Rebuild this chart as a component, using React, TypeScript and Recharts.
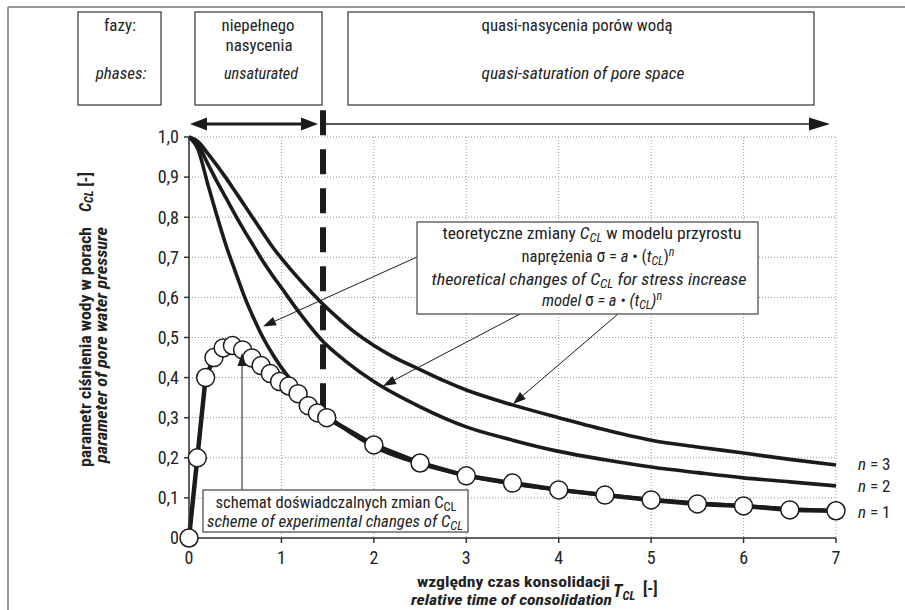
import React from "react";
import {
  ComposedChart,
  Line,
  XAxis,
  YAxis,
  CartesianGrid,
  ReferenceLine,
} from "recharts";

// ---------- data ----------
const expT = [0, 0.09, 0.18, 0.27, 0.37, 0.47, 0.58, 0.68, 0.78, 0.88, 0.98, 1.08, 1.18, 1.29, 1.39, 1.49, 2.0, 2.5, 3.0, 3.5, 4.0, 4.5, 5.0, 5.5, 6.0, 6.5, 7.0];
const expC = [0, 0.2, 0.4, 0.45, 0.474, 0.48, 0.469, 0.449, 0.43, 0.41, 0.39, 0.379, 0.36, 0.33, 0.312, 0.3, 0.232, 0.187, 0.155, 0.137, 0.12, 0.107, 0.095, 0.085, 0.08, 0.07, 0.068];

const n1T = [0, 0.1, 0.2, 0.3, 0.4, 0.5, 0.6, 0.7, 0.8, 0.9, 1.0, 1.1, 1.2, 1.3, 1.4, 1.5, 2.0, 2.5, 3.0, 3.5, 4.0, 4.5, 5.0, 5.5, 6.0, 6.5, 7.0];
const n1C = [1.0, 0.968, 0.885, 0.805, 0.73, 0.665, 0.602, 0.548, 0.5, 0.46, 0.425, 0.395, 0.368, 0.345, 0.325, 0.305, 0.228, 0.185, 0.156, 0.135, 0.12, 0.107, 0.096, 0.087, 0.08, 0.073, 0.067];

const n2T = [0, 0.1, 0.2, 0.3, 0.4, 0.5, 0.6, 0.7, 0.8, 0.9, 1.0, 1.2, 1.45, 1.7, 2.0, 2.5, 3.0, 3.5, 4.0, 4.5, 5.0, 5.5, 6.0, 6.5, 7.0];
const n2C = [1.0, 0.98, 0.935, 0.89, 0.848, 0.806, 0.766, 0.728, 0.69, 0.656, 0.624, 0.56, 0.49, 0.44, 0.39, 0.327, 0.277, 0.244, 0.216, 0.195, 0.177, 0.163, 0.15, 0.14, 0.13];

const n3T = [0, 0.1, 0.2, 0.3, 0.4, 0.5, 0.6, 0.75, 0.9, 1.1, 1.25, 1.42, 1.6, 1.8, 2.0, 2.2, 2.5, 2.75, 3.0, 3.5, 4.0, 4.5, 5.0, 5.5, 6.0, 6.5, 7.0];
const n3C = [1.0, 0.988, 0.96, 0.93, 0.898, 0.864, 0.83, 0.778, 0.727, 0.67, 0.631, 0.59, 0.551, 0.512, 0.48, 0.453, 0.42, 0.393, 0.369, 0.332, 0.3, 0.27, 0.244, 0.227, 0.212, 0.196, 0.182];

const xTicks = [0, 1, 2, 3, 4, 5, 6, 7];
const yTicks = [0, 0.1, 0.2, 0.3, 0.4, 0.5, 0.6, 0.7, 0.8, 0.9, 1.0];
const phaseBoundaryT = 1.45;
const phaseLineBottomC = 0.31;
const phaseLineTopC = 1.067;

const zip = (ts: number[], cs: number[]) => ts.map((t, i) => ({ t, c: cs[i] }));
const expData = zip(expT, expC);
const n1Data = zip(n1T, n1C);
const n2Data = zip(n2T, n2C);
const n3Data = zip(n3T, n3C);

const FONT = "'Liberation Sans Narrow', 'Arial Narrow', 'Roboto Condensed', 'Liberation Sans', sans-serif";
const INK = "#1b1b1b";
const TXT = "#222";

const fmtY = (v: number) => (v === 0 ? "0" : v.toFixed(1).replace(".", ","));

function head(tx: number, ty: number, fx: number, fy: number, len: number, hw: number) {
  const dx = tx - fx;
  const dy = ty - fy;
  const d = Math.sqrt(dx * dx + dy * dy);
  const ux = dx / d;
  const uy = dy / d;
  const bx = tx - ux * len;
  const by = ty - uy * len;
  const px = -uy * hw;
  const py = ux * hw;
  return `${tx},${ty} ${bx + px},${by + py} ${bx - px},${by - py}`;
}

function Arrow({ x1, y1, x2, y2, w = 1, len = 13, hw = 4.5 }: any) {
  const dx = x2 - x1;
  const dy = y2 - y1;
  const d = Math.sqrt(dx * dx + dy * dy);
  const ex = x2 - (dx / d) * (len - 2);
  const ey = y2 - (dy / d) * (len - 2);
  return (
    <g>
      <line x1={x1} y1={y1} x2={ex} y2={ey} stroke={INK} strokeWidth={w} />
      <polygon points={head(x2, y2, x1, y1, len, hw)} fill={INK} />
    </g>
  );
}

const SA = "spacingAndGlyphs";

function Overlay() {
  return (
    <svg
      width={905}
      height={610}
      style={{ position: "absolute", left: 0, top: 0, pointerEvents: "none" }}
      fontFamily={FONT}
    >
      {/* outer frame */}
      <line x1={8} y1={7} x2={905} y2={7} stroke="#777" strokeWidth={1.5} />
      <line x1={8} y1={7} x2={8} y2={610} stroke="#777" strokeWidth={1.5} />

      {/* phase boxes */}
      <rect x={78} y={12} width={83} height={93} fill="#fff" stroke="#333" strokeWidth={1.2} />
      <rect x={195} y={12} width={127} height={93} fill="#fff" stroke="#333" strokeWidth={1.2} />
      <rect x={348} y={12} width={466} height={93} fill="#fff" stroke="#333" strokeWidth={1.2} />
      <g fontSize={17} fill={TXT} textAnchor="middle">
        <text x={120} y={31}>fazy:</text>
        <text x={121} y={79} fontStyle="italic">phases:</text>
        <text x={258} y={31} textLength={73} lengthAdjust={SA}>niepełnego</text>
        <text x={259} y={51}>nasycenia</text>
        <text x={261} y={79} fontStyle="italic" textLength={74} lengthAdjust={SA}>unsaturated</text>
        <text x={577} y={31} textLength={191} lengthAdjust={SA}>quasi-nasycenia porów wodą</text>
        <text x={583} y={79} fontStyle="italic" textLength={203} lengthAdjust={SA}>quasi-saturation of pore space</text>
      </g>

      {/* phase arrows */}
      <line x1={204} y1={124} x2={304} y2={124} stroke={INK} strokeWidth={2.8} />
      <polygon points={head(190, 124, 250, 124, 17, 6.5)} fill={INK} />
      <polygon points={head(318, 124, 250, 124, 17, 6.5)} fill={INK} />
      <line x1={326} y1={124} x2={812} y2={124} stroke={INK} strokeWidth={1.5} />
      <polygon points={head(830, 124, 700, 124, 21, 6.5)} fill={INK} />

      {/* annotation: theoretical */}
      <Arrow x1={417} y1={257} x2={263} y2={326.5} />
      <Arrow x1={520} y1={314} x2={383} y2={386} />
      <Arrow x1={618} y1={314} x2={513} y2={404} />
      <rect x={417} y={222} width={341} height={92} fill="#fff" stroke="#444" strokeWidth={1.2} />
      <g fontSize={16.5} fill={TXT} textAnchor="middle">
        <text x={592} y={239} textLength={299} lengthAdjust={SA}>
          teoretyczne zmiany <tspan fontStyle="italic">C</tspan>
          <tspan fontStyle="italic" fontSize={12} dy={3}>CL</tspan>
          <tspan dy={-3}> w modelu przyrostu</tspan>
        </text>
        <text x={598} y={262}>
          naprężenia <tspan fontSize={17.5}>σ</tspan> = <tspan fontStyle="italic">a</tspan> • (
          <tspan fontStyle="italic">t</tspan>
          <tspan fontStyle="italic" fontSize={12} dy={3}>CL</tspan>
          <tspan dy={-3}>)</tspan>
          <tspan fontStyle="italic" fontSize={12} dy={-6}>n</tspan>
        </text>
        <text x={589} y={285} fontStyle="italic" textLength={315} lengthAdjust={SA}>
          theoretical changes of C
          <tspan fontSize={12} dy={3}>CL</tspan>
          <tspan dy={-3}> for stress increase</tspan>
        </text>
        <text x={602} y={306} fontStyle="italic">
          model <tspan fontStyle="normal" fontSize={17.5}>σ</tspan> = a • (t
          <tspan fontSize={12} dy={3}>CL</tspan>
          <tspan dy={-3}>)</tspan>
          <tspan fontSize={12} dy={-6}>n</tspan>
        </text>
      </g>

      {/* annotation: experimental */}
      <Arrow x1={242} y1={490} x2={242} y2={353} />
      <rect x={203} y={490} width={265} height={42} fill="#fff" stroke="#444" strokeWidth={1.2} />
      <g fontSize={16} fill={TXT} textAnchor="middle">
        <text x={336} y={508} textLength={241} lengthAdjust={SA}>
          schemat doświadczalnych zmian C<tspan fontSize={12} dy={3}>CL</tspan>
        </text>
        <text x={335} y={527} fontStyle="italic" textLength={256} lengthAdjust={SA}>
          scheme of experimental changes of C<tspan fontSize={12} dy={3}>CL</tspan>
        </text>
      </g>

      {/* series labels */}
      <g fontSize={17} fill={TXT}>
        <text x={858} y={470}><tspan fontStyle="italic">n</tspan> = 3</text>
        <text x={858} y={492}><tspan fontStyle="italic">n</tspan> = 2</text>
        <text x={858} y={518}><tspan fontStyle="italic">n</tspan> = 1</text>
      </g>

      {/* y axis title */}
      <g transform="translate(91,467) rotate(-90)" fontSize={16.5} fill={TXT} fontWeight="bold">
        <text x={0} y={0} textLength={240} lengthAdjust={SA}>parametr ciśnienia wody w porach</text>
        <text x={255} y={0}>
          <tspan fontStyle="italic">C</tspan>
          <tspan fontStyle="italic" fontSize={12} dy={2}>CL</tspan>
          <tspan dy={-2}> [-]</tspan>
        </text>
        <text x={4} y={16} fontStyle="italic" textLength={236} lengthAdjust={SA}>parameter of pore water pressure</text>
      </g>

      {/* x axis title */}
      <g fontSize={15.5} fill={TXT} fontWeight="bold">
        <text x={417} y={587} textLength={193} lengthAdjust={SA}>względny czas konsolidacji</text>
        <text x={411} y={605} fontStyle="italic" textLength={201} lengthAdjust={SA}>relative time of consolidation</text>
        <text x={613} y={597} fontStyle="italic" fontSize={18}>
          T<tspan fontSize={12.5} dy={3}>CL</tspan>
        </text>
        <text x={643} y={594} fontSize={16.5}>[-]</text>
      </g>
    </svg>
  );
}

export default function App() {
  return (
    <div style={{ position: "absolute", left: 0, top: 0, width: 905, height: 610, background: "#fff" }}>
      <ComposedChart
        width={905}
        height={610}
        margin={{ top: 137, right: 69, bottom: 42, left: 129 }}
        style={{ fontFamily: FONT }}
      >
        <CartesianGrid stroke="#9a9a9a" strokeDasharray="1 2" strokeWidth={1} />
        <XAxis
          dataKey="t"
          type="number"
          domain={[0, 7]}
          ticks={xTicks}
          height={30}
          tickSize={5}
          tickMargin={8}
          stroke="#333"
          strokeWidth={1.5}
          tick={{ fill: TXT, fontSize: 18, fontFamily: FONT }}
          allowDuplicatedCategory={false}
        />
        <XAxis
          xAxisId="top"
          orientation="top"
          type="number"
          domain={[0, 7]}
          ticks={xTicks}
          height={0}
          tick={false}
          tickLine={false}
          stroke="#333"
          strokeWidth={1.5}
        />
        <YAxis
          type="number"
          domain={[0, 1]}
          ticks={yTicks}
          width={60}
          tickSize={5}
          tickMargin={5}
          tickFormatter={fmtY}
          stroke="#333"
          strokeWidth={1.5}
          tick={{ fill: TXT, fontSize: 18, fontFamily: FONT }}
        />
        <YAxis
          yAxisId="right"
          orientation="right"
          type="number"
          domain={[0, 1]}
          width={0}
          tick={false}
          tickLine={false}
          stroke="#333"
          strokeWidth={1.5}
        />
        <ReferenceLine
          segment={[
            { x: phaseBoundaryT, y: phaseLineTopC },
            { x: phaseBoundaryT, y: phaseLineBottomC },
          ]}
          ifOverflow="visible"
          stroke={INK}
          strokeWidth={6}
          strokeDasharray="25 14"
        />
        <Line data={n3Data} dataKey="c" type="monotone" stroke={INK} strokeWidth={3.6} dot={false} isAnimationActive={false} />
        <Line data={n2Data} dataKey="c" type="monotone" stroke={INK} strokeWidth={3.6} dot={false} isAnimationActive={false} />
        <Line data={n1Data} dataKey="c" type="monotone" stroke={INK} strokeWidth={3.6} dot={false} isAnimationActive={false} />
        <Line
          data={expData}
          dataKey="c"
          type="linear"
          stroke={INK}
          strokeWidth={4.5}
          dot={{ r: 9, fill: "#fff", stroke: INK, strokeWidth: 1.5 }}
          isAnimationActive={false}
        />
      </ComposedChart>
      <Overlay />
    </div>
  );
}
